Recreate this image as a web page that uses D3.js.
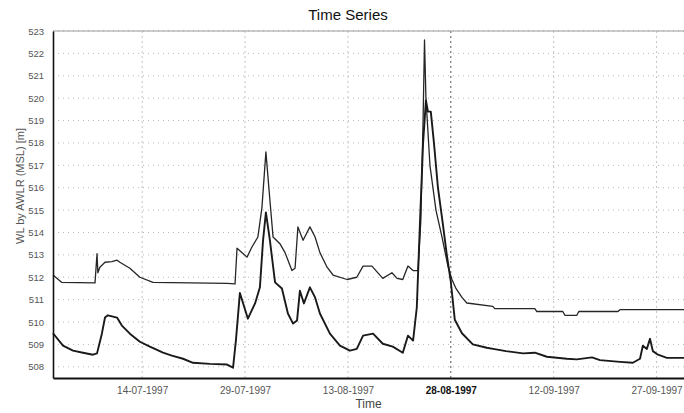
<!DOCTYPE html>
<html>
<head>
<meta charset="utf-8">
<script src="https://cdn.jsdelivr.net/npm/d3@7"></script>
<style>
  body { margin: 0; background: #fff; }
  svg text { font-family: "Liberation Sans", Arial, sans-serif; }
</style>
</head>
<body>
<div id="chart"></div>
<script>
// upper gauge series (date, WL m)
var upperDates = ["1997-07-01 00", "1997-07-02 07", "1997-07-07 03", "1997-07-07 10", "1997-07-07 13",
    "1997-07-07 20", "1997-07-08 14", "1997-07-09 14", "1997-07-10 08", "1997-07-10 18", "1997-07-12 05",
    "1997-07-13 16", "1997-07-15 14", "1997-07-26 09", "1997-07-27 13", "1997-07-27 20", "1997-07-29 07",
    "1997-07-30 00", "1997-07-30 21", "1997-07-31 11", "1997-08-01 01", "1997-08-01 12", "1997-08-02 02",
    "1997-08-03 02", "1997-08-03 20", "1997-08-04 20", "1997-08-05 07", "1997-08-05 17", "1997-08-06 11",
    "1997-08-07 11", "1997-08-08 05", "1997-08-08 22", "1997-08-09 23", "1997-08-10 20", "1997-08-12 21",
    "1997-08-14 07", "1997-08-15 05", "1997-08-16 12", "1997-08-18 02", "1997-08-19 10", "1997-08-20 04",
    "1997-08-21 00", "1997-08-21 18", "1997-08-22 12", "1997-08-23 05", "1997-08-23 15", "1997-08-23 23",
    "1997-08-24 04", "1997-08-24 09", "1997-08-24 23", "1997-08-25 20", "1997-08-26 17", "1997-08-27 14",
    "1997-08-28 04", "1997-08-28 18", "1997-08-29 15", "1997-08-30 08", "1997-09-03 03", "1997-09-03 10",
    "1997-09-09 06", "1997-09-09 13", "1997-09-13 08", "1997-09-13 15", "1997-09-15 09", "1997-09-15 16",
    "1997-09-21 09", "1997-09-21 16", "1997-10-01 00"];
var upperValues = [512.1, 511.77, 511.75, 513.05, 512.2,
    512.45, 512.67, 512.7, 512.76, 512.67, 512.4,
    512.0, 511.77, 511.73, 511.7, 513.3, 512.9,
    513.35, 513.8, 515.1, 517.6, 515.9, 513.8,
    513.5, 513.1, 512.3, 512.4, 514.25, 513.65,
    514.25, 513.8, 513.1, 512.45, 512.1, 511.9,
    512.0, 512.5, 512.5, 511.95, 512.2, 511.95,
    511.9, 512.5, 512.3, 512.3, 514.5, 519.0,
    522.6, 520.0, 517.0, 515.0, 513.8, 512.5,
    511.9, 511.5, 511.1, 510.85, 510.7, 510.6,
    510.6, 510.47, 510.47, 510.3, 510.3, 510.47,
    510.47, 510.55, 510.55];

// lower gauge series (date, WL m)
var lowerDates = ["1997-07-01 00", "1997-07-02 11", "1997-07-03 22", "1997-07-05 09", "1997-07-06 20",
    "1997-07-07 10", "1997-07-08 03", "1997-07-08 14", "1997-07-09 00", "1997-07-10 08", "1997-07-11 01",
    "1997-07-12 05", "1997-07-13 16", "1997-07-15 03", "1997-07-17 01", "1997-07-18 08", "1997-07-19 23",
    "1997-07-21 10", "1997-07-23 21", "1997-07-26 09", "1997-07-27 06", "1997-07-27 16", "1997-07-28 06",
    "1997-07-29 10", "1997-07-30 11", "1997-07-31 04", "1997-07-31 15", "1997-08-01 01", "1997-08-01 15",
    "1997-08-02 09", "1997-08-03 09", "1997-08-04 06", "1997-08-05 00", "1997-08-05 14", "1997-08-06 00",
    "1997-08-06 14", "1997-08-07 11", "1997-08-08 05", "1997-08-08 22", "1997-08-10 09", "1997-08-11 20",
    "1997-08-13 07", "1997-08-14 07", "1997-08-15 05", "1997-08-16 16", "1997-08-18 02", "1997-08-19 13",
    "1997-08-21 00", "1997-08-21 18", "1997-08-22 12", "1997-08-23 01", "1997-08-23 12", "1997-08-23 23",
    "1997-08-24 09", "1997-08-24 16", "1997-08-25 02", "1997-08-25 13", "1997-08-26 03", "1997-08-26 20",
    "1997-08-27 10", "1997-08-28 00", "1997-08-28 14", "1997-08-29 15", "1997-08-31 05", "1997-09-02 06",
    "1997-09-03 04", "1997-09-05 01", "1997-09-07 13", "1997-09-09 06", "1997-09-11 00", "1997-09-13 22",
    "1997-09-15 09", "1997-09-17 14", "1997-09-18 18", "1997-09-21 16", "1997-09-23 13", "1997-09-24 14",
    "1997-09-25 00", "1997-09-25 14", "1997-09-26 01", "1997-09-26 11", "1997-09-27 05", "1997-09-28 12",
    "1997-10-01 00"];
var lowerValues = [509.5, 508.95, 508.72, 508.63, 508.54,
    508.6, 509.48, 510.2, 510.3, 510.2, 509.84,
    509.48, 509.12, 508.9, 508.63, 508.5, 508.36,
    508.18, 508.13, 508.1, 507.96, 509.17, 511.3,
    510.15, 510.83, 511.55, 513.65, 514.9, 513.65,
    511.77, 511.5, 510.38, 509.93, 510.07, 511.4,
    510.83, 511.55, 511.1, 510.38, 509.48, 508.95,
    508.72, 508.8, 509.39, 509.48, 509.03, 508.9,
    508.63, 509.39, 509.17, 510.65, 514.4, 518.0,
    519.9, 519.4, 519.4, 518.0, 516.0, 514.4,
    513.0, 511.8, 510.1, 509.5, 509.0, 508.85,
    508.8, 508.7, 508.6, 508.63, 508.45, 508.36,
    508.33, 508.42, 508.3, 508.22, 508.18, 508.36,
    508.94, 508.8, 509.25, 508.7, 508.54, 508.4,
    508.4];

var xTickDates = ["1997-07-14", "1997-07-29", "1997-08-13", "1997-08-28", "1997-09-12", "1997-09-27"];
var yTicks = d3.range(508, 524);

var W = 684, H = 413;
var margin = { top: 31, right: 0, bottom: 35, left: 53 },
    width = W - margin.left - margin.right,
    height = H - margin.top - margin.bottom;

var parseHour = d3.utcParse("%Y-%m-%d %H");
var parseDay = d3.utcParse("%Y-%m-%d");
var fmt = d3.utcFormat("%d-%m-%Y");

var upper = upperDates.map(function (d, i) { return { date: parseHour(d), value: upperValues[i] }; });
var lower = lowerDates.map(function (d, i) { return { date: parseHour(d), value: lowerValues[i] }; });
var xTicks = xTickDates.map(function (d) { return parseDay(d); });

var svg = d3.select("#chart")
    .append("svg")
    .attr("width", W)
    .attr("height", H);

var g = svg.append("g")
    .attr("transform", "translate(" + margin.left + "," + margin.top + ")");

var x = d3.scaleUtc()
    .domain([parseDay("1997-07-01"), parseDay("1997-10-01")])
    .range([0, width]);

var y = d3.scaleLinear()
    .domain([507.5, 523])
    .range([height, 0]);

// grid
g.selectAll(".hgrid")
    .data(yTicks)
    .enter().append("line")
    .attr("x1", 0).attr("x2", width)
    .attr("y1", function (d) { return y(d); })
    .attr("y2", function (d) { return y(d); })
    .attr("stroke", "#b8b8b8")
    .attr("stroke-dasharray", "1,4");

g.selectAll(".vgrid")
    .data(xTicks)
    .enter().append("line")
    .attr("x1", function (d) { return x(d); })
    .attr("x2", function (d) { return x(d); })
    .attr("y1", 0).attr("y2", height)
    .attr("stroke", function (d, i) { return i == 3 ? "#555" : "#c4c4c4"; })
    .attr("stroke-dasharray", "2,3");

// top border
g.append("line")
    .attr("x1", 0).attr("x2", width)
    .attr("y1", 0).attr("y2", 0)
    .attr("stroke", "#999");

var line = d3.line()
    .x(function (d) { return x(d.date); })
    .y(function (d) { return y(d.value); });

g.append("path")
    .datum(upper)
    .attr("d", line)
    .attr("fill", "none")
    .attr("stroke", "#262626")
    .attr("stroke-width", 1.3)
    .attr("stroke-linejoin", "round");

g.append("path")
    .datum(lower)
    .attr("d", line)
    .attr("fill", "none")
    .attr("stroke", "#1a1a1a")
    .attr("stroke-width", 1.9)
    .attr("stroke-linejoin", "round");

// axes
var yAxis = g.append("g")
    .call(d3.axisLeft(y).tickValues(yTicks).tickSize(0).tickPadding(9).tickFormat(d3.format("d")));
yAxis.select(".domain").attr("stroke", "#111").attr("stroke-width", 1.6);
yAxis.selectAll("text")
    .attr("fill", "#555")
    .style("font-size", "9.5px");

var xAxis = g.append("g")
    .attr("transform", "translate(0," + height + ")")
    .call(d3.axisBottom(x).tickValues(xTicks).tickSize(0).tickPadding(9).tickFormat(fmt));
xAxis.select(".domain").attr("stroke", "#111").attr("stroke-width", 2);
xAxis.selectAll("text")
    .attr("fill", function (d, i) { return i == 3 ? "#111" : "#555"; })
    .style("font-weight", function (d, i) { return i == 3 ? "bold" : "normal"; })
    .style("font-size", "10px");

// labels
svg.append("text")
    .attr("x", 348)
    .attr("y", 20)
    .attr("text-anchor", "middle")
    .style("font-size", "15px")
    .attr("fill", "#111")
    .text("Time Series");

svg.append("text")
    .attr("x", margin.left + width / 2)
    .attr("y", 408)
    .attr("text-anchor", "middle")
    .style("font-size", "12px")
    .attr("fill", "#444")
    .text("Time");

svg.append("text")
    .attr("transform", "translate(24,186) rotate(-90)")
    .attr("text-anchor", "middle")
    .style("font-size", "11px")
    .attr("fill", "#555")
    .text("WL by AWLR (MSL)  [m]");
</script>
</body>
</html>
